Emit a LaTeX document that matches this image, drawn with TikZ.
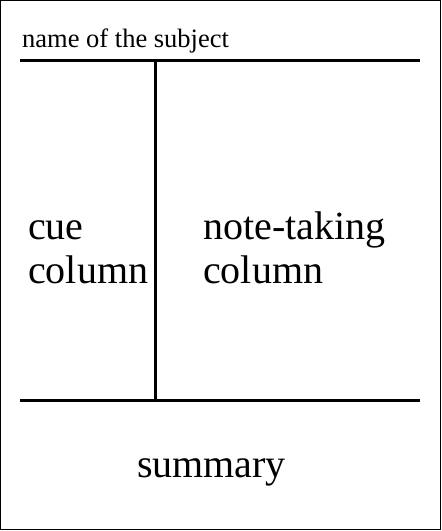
\documentclass[tikz,border=0pt]{standalone}
\usepackage{fontspec}
\setmainfont{Liberation Serif}
\begin{document}
\begin{tikzpicture}[x=1pt,y=-1pt,
  rule/.style={line width=3pt},
  frame/.style={line width=1pt},
  small/.style={font=\fontsize{26.5}{30}\selectfont, inner sep=0pt},
  big/.style={font=\fontsize{40}{44}\selectfont, inner sep=0pt, align=left}]
\useasboundingbox (0,0) rectangle (442,531);
\draw[frame] (0.5,0.5) rectangle (440.5,529.5);
\coordinate (tl) at (20,60);
\coordinate (tr) at (420,60);
\coordinate (bl) at (20,400);
\coordinate (br) at (420,400);
\coordinate (vt) at (155,60);
\coordinate (vb) at (155,400);
\draw[rule] (tl) -- (tr);
\draw[rule] (bl) -- (br);
\draw[rule] (vt) -- (vb);
\node[small, anchor=base west] (subject) at (22,47) {name of the subject};
\node[big, anchor=base west] (cue) at (28,283) {cue\\column};
\node[big, anchor=base west] (notes) at (203,283) {note-taking\\column};
\node[big, anchor=base] (summary) at (211.5,477) {summary};
\end{tikzpicture}
\end{document}
